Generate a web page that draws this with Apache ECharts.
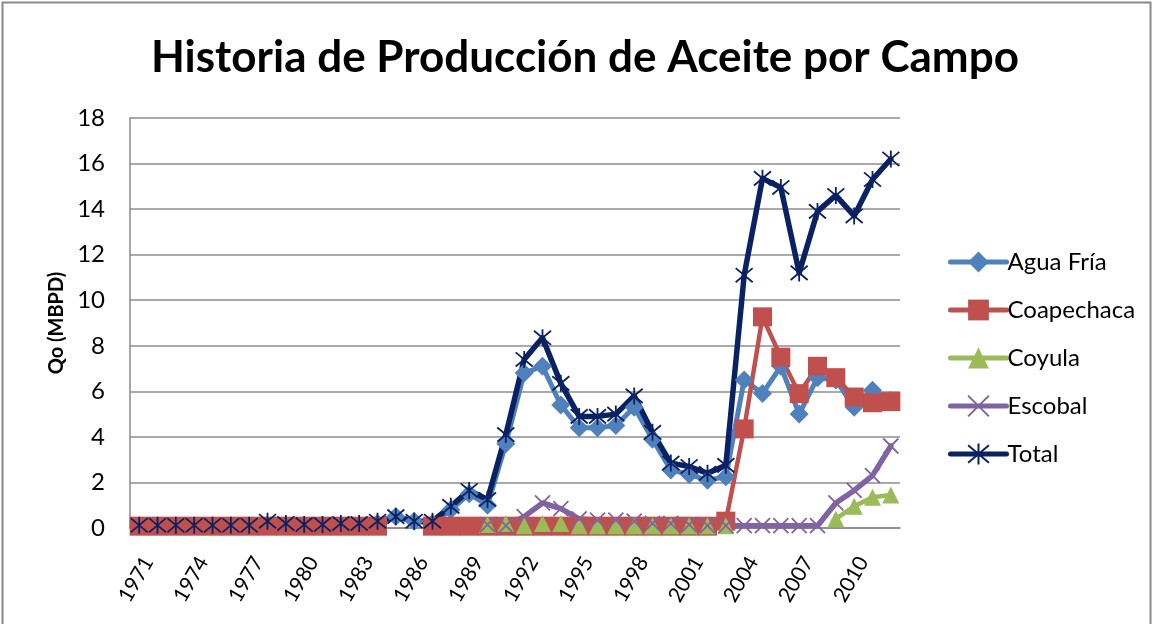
<!DOCTYPE html>
<html>
<head>
<meta charset="utf-8">
<script src="https://cdn.jsdelivr.net/npm/echarts@6/dist/echarts.min.js"></script>
<style>
  html, body { margin: 0; padding: 0; background: #fff; }
  #chart { width: 1154px; height: 624px; }
</style>
</head>
<body>
<div id="chart"></div>
<script>
// Years on the category axis
const years = [];
for (let y = 1971; y <= 2012; y++) years.push(String(y));

// Oil production per field (MBPD), 1971-2012
const aguaFria = [
  null, null, null, null, null, null, null, null, null, null, null, null, null,
  0.2, 0.5, 0.3, 0.2, 0.8, 1.5, 1.0, 3.7, 6.8, 7.1, 5.4, 4.4, 4.4, 4.5, 5.3,
  3.9, 2.55, 2.35, 2.1, 2.25, 6.5, 5.9, 7.1, 5.0, 6.6, 6.5, 5.3, 6.05, 5.6
];
const coapechaca = [
  0.08, 0.08, 0.08, 0.08, 0.08, 0.08, 0.08, 0.08, 0.08, 0.08, 0.08, 0.08, 0.08, 0.08,
  null, null,
  0.08, 0.08, 0.08, 0.08, 0.08, 0.08, 0.08, 0.08, 0.08, 0.08, 0.08, 0.08,
  0.08, 0.08, 0.08, 0.08, 0.3, 4.35, 9.27, 7.5, 5.9, 7.1, 6.6, 5.75, 5.5, 5.55
];
const coyula = [
  null, null, null, null, null, null, null, null, null, null, null, null, null,
  null, null, null, null, null, null,
  0.15, 0.2, 0.1, 0.2, 0.2, 0.1, 0.1, 0.1, 0.1, 0.1, 0.1, 0.1, 0.1, 0.1,
  null, null, null, null, null, 0.4, 0.95, 1.35, 1.45
];
const escobal = [
  null, null, null, null, null, null, null, null, null, null, null, null, null,
  null, null, null, null, null, null,
  0.15, 0.1, 0.5, 1.1, 0.85, 0.4, 0.35, 0.35, 0.3, 0.2, 0.2, 0.15, 0.1, 0.1,
  0.1, 0.1, 0.1, 0.1, 0.1, 1.1, 1.65, 2.3, 3.6
];
const total = [
  0.12, 0.12, 0.12, 0.12, 0.12, 0.12, 0.12, 0.3, 0.2, 0.15, 0.15, 0.2, 0.2, 0.3,
  0.5, 0.3, 0.3, 0.95, 1.65, 1.25, 4.1, 7.4, 8.35, 6.35, 4.9, 4.9, 5.0, 5.8,
  4.2, 2.85, 2.7, 2.4, 2.75, 11.1, 15.35, 14.95, 11.2, 13.9, 14.6, 13.7, 15.3, 16.2
];

const seriesNames = ['Agua Fría', 'Coapechaca', 'Coyula', 'Escobal', 'Total'];
const yTicks = { min: 0, max: 18, interval: 2 };

const FONT = 'Lato, "Open Sans", sans-serif';
const crossPath = 'path://M0 0L10 10M10 0L0 10';
const starPath = 'path://M0 0L10 10M10 0L0 10M5 -1L5 11';

function lineSeries(name, data, color, symbol, size, width, strokeMarker) {
  return {
    name: name,
    type: 'line',
    data: data,
    symbol: symbol,
    symbolSize: size,
    showAllSymbol: true,
    connectNulls: false,
    lineStyle: { color: color, width: width, cap: 'round', join: 'round' },
    itemStyle: strokeMarker
      ? { color: color, borderColor: color, borderWidth: 1.8 }
      : { color: color, borderWidth: 0 },
    emphasis: { disabled: true },
    animation: false
  };
}

const chart = echarts.init(document.getElementById('chart'), null, { renderer: 'canvas' });
chart.setOption({
  backgroundColor: '#ffffff',
  animation: false,
  title: {
    text: 'Historia de Producción de Aceite por Campo',
    left: 580,
    top: 31,
    textAlign: 'center',
    textStyle: { fontFamily: FONT, fontWeight: 'bold', fontSize: 44, color: '#000' }
  },
  graphic: [{
    type: 'rect',
    shape: { x: 2.5, y: 2.5, width: 1148, height: 630 },
    style: { fill: 'none', stroke: '#8a8a8a', lineWidth: 2 },
    silent: true
  }],
  grid: { left: 130, right: 254, top: 118, bottom: 96, containLabel: false },
  legend: {
    orient: 'vertical',
    left: 943,
    top: 245,
    itemGap: 24,
    itemWidth: 56,
    itemHeight: 26,
    data: seriesNames,
    lineStyle: { width: 5, cap: 'round' },
    textStyle: { fontFamily: FONT, fontSize: 24, color: '#000', padding: [0, 0, 0, -4] }
  },
  xAxis: {
    type: 'category',
    data: years,
    boundaryGap: true,
    axisLine: { lineStyle: { color: '#888', width: 1.5 } },
    axisTick: { show: false },
    axisLabel: {
      interval: 2,
      rotate: 60,
      fontFamily: FONT,
      fontSize: 21,
      color: '#000',
      margin: 25,
      verticalAlign: 'top'
    }
  },
  yAxis: {
    type: 'value',
    min: yTicks.min,
    max: yTicks.max,
    interval: yTicks.interval,
    name: 'Qo (MBPD)',
    nameLocation: 'middle',
    nameGap: 62,
    nameRotate: 90,
    nameTextStyle: { fontFamily: FONT, fontWeight: 'bold', fontSize: 20, color: '#000' },
    axisLine: { show: true, lineStyle: { color: '#888', width: 1.5 } },
    axisTick: { show: false },
    splitLine: { lineStyle: { color: '#8c8c8c', width: 1.5 } },
    axisLabel: { fontFamily: FONT, fontSize: 24, color: '#000', margin: 25 }
  },
  series: [
    lineSeries('Agua Fría', aguaFria, '#4F81BD', 'diamond', 19, 5, false),
    lineSeries('Coapechaca', coapechaca, '#C0504D', 'rect', 19, 4.5, false),
    lineSeries('Coyula', coyula, '#9BBB59', 'triangle', 17, 4.5, false),
    lineSeries('Escobal', escobal, '#8064A2', crossPath, 15, 5.5, true),
    lineSeries('Total', total, '#0A2163', starPath, 17, 5.5, true)
  ]
});
</script>
</body>
</html>
